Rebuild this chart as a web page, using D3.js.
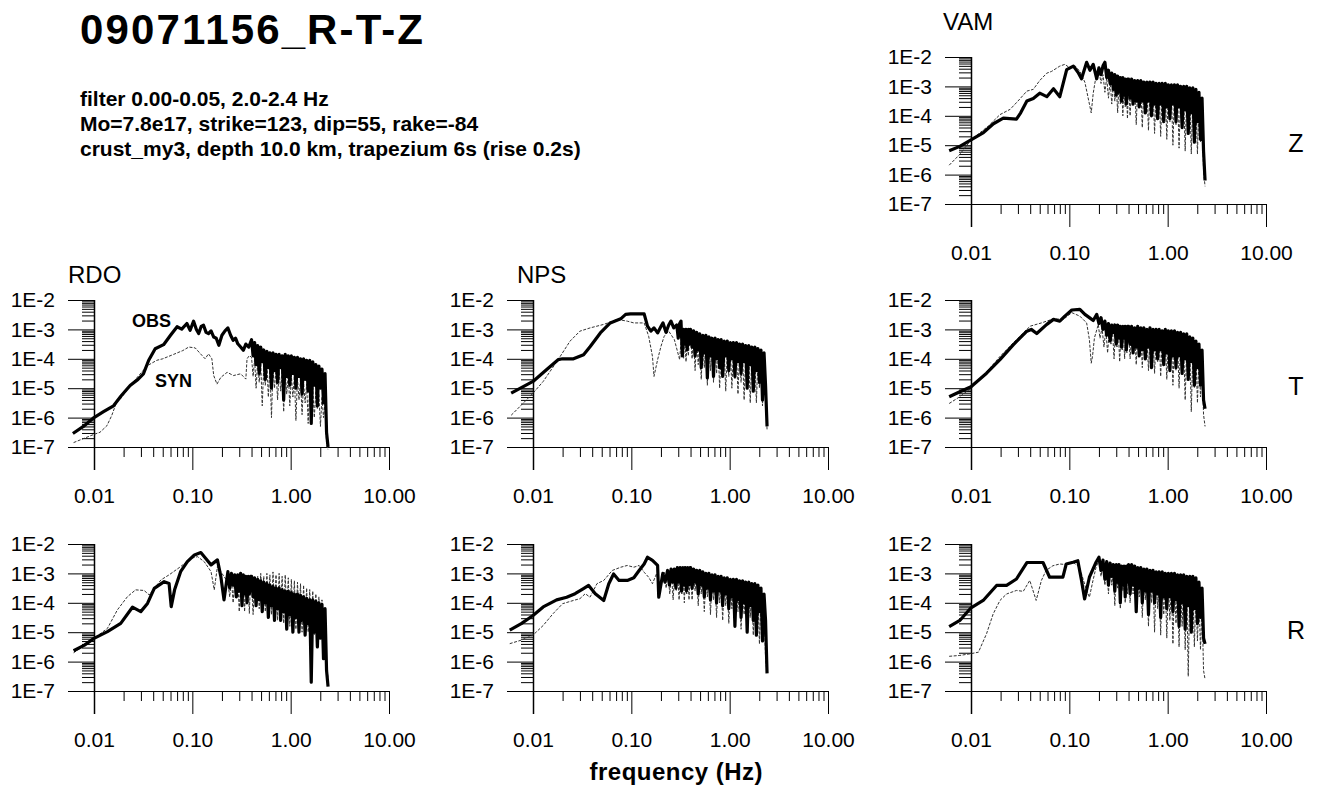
<!DOCTYPE html>
<html>
<head>
<meta charset="utf-8">
<script src="https://cdn.jsdelivr.net/npm/d3@7"></script>
<style>
body { margin: 0; background: #fff; }
text { font-family: "Liberation Sans", Arial, sans-serif; fill: #000; }
</style>
</head>
<body>
<div id="chart"></div>
<script>
// Tick values and labels
const freqTicks = [0.01, 0.1, 1, 10];
const freqTickLabels = ["0.01", "0.10", "1.00", "10.00"];
const ampTicks = [1e-2, 1e-3, 1e-4, 1e-5, 1e-6, 1e-7];
const ampTickLabels = ["1E-2", "1E-3", "1E-4", "1E-5", "1E-6", "1E-7"];

const chartTitle = "09071156_R-T-Z";
const infoLines = [
    "filter 0.00-0.05, 2.0-2.4 Hz",
    "Mo=7.8e17, strike=123, dip=55, rake=-84",
    "crust_my3, depth 10.0 km, trapezium 6s (rise 0.2s)"];

// Frequencies (Hz) of the noisy high part, shared by all spectra
const hfFreq = [0.400,0.415,0.430,0.445,0.462,0.479,0.496,0.514,0.533,0.552,
    0.573,0.593,0.615,0.638,0.661,0.685,0.710,0.736,0.763,0.791,
    0.819,0.849,0.880,0.912,0.946,0.980,1.016,1.053,1.091,1.131,
    1.173,1.215,1.260,1.306,1.353,1.403,1.454,1.507,1.562,1.619,
    1.678,1.739,1.803,1.869,1.937,2.008,2.081,2.157,2.236,2.317,2.400];

// Spectra: low part as [freq Hz, log10 amplitude], high part as log10 amplitude on hfFreq

// VAM Z
const vamZObsLow = [[0.0060,-5.19],[0.0077,-5.04],[0.0100,-4.82],[0.0134,-4.57],[0.0169,-4.27],[0.0213,-4.08],[0.0290,-4.11],[0.0320,-3.9],
    [0.0370,-3.5],[0.0430,-3.41],[0.0500,-3.23],[0.0590,-3.35],[0.0690,-3.08],[0.0800,-3.35],[0.0940,-2.43],[0.1100,-2.31],[0.1240,-2.55],
    [0.1330,-2.74],[0.1500,-2.18],[0.1620,-2.45],[0.1750,-2.25],[0.1900,-2.74],[0.2000,-2.37],[0.2100,-2.6],[0.2200,-2.3],[0.2300,-2.18],
    [0.2400,-2.7],[0.2500,-2.45],[0.2600,-2.9],[0.2700,-2.55],[0.2800,-3.1],[0.2900,-2.6],[0.3000,-3.3],[0.3100,-2.65],[0.3200,-3.2],
    [0.3300,-2.7],[0.3400,-3.5],[0.3500,-2.7],[0.3600,-3.3],[0.3700,-2.75],[0.3800,-3.6],[0.3900,-2.75]];
const vamZObsHigh = [-2.75,-3.4,-2.75,-3.6,-2.8,-3.5,-2.8,-3.7,-2.8,-3.5,
    -2.85,-3.9,-2.85,-3.5,-2.85,-4.0,-2.85,-3.6,-2.9,-4.1,
    -2.9,-3.6,-2.9,-4.2,-2.9,-3.7,-2.95,-4.1,-2.95,-3.6,
    -2.95,-4.2,-2.95,-3.7,-3.0,-4.4,-3.0,-3.8,-3.0,-4.6,
    -3.05,-3.9,-3.05,-4.9,-3.1,-4.2,-3.2,-4.8,-3.4,-5.2,-6.2];
const vamZSynLow = [[0.0060,-5.68],[0.0077,-5.31],[0.0100,-4.82],[0.0150,-4.35],[0.0197,-3.96],[0.0250,-3.78],[0.0300,-3.5],[0.0370,-3.16],
    [0.0430,-3.1],[0.0500,-2.8],[0.0590,-2.55],[0.0660,-2.49],[0.0800,-2.31],[0.0900,-2.25],[0.1010,-2.37],[0.1150,-2.31],[0.1280,-2.49],
    [0.1440,-2.86],[0.1600,-3.6],[0.1670,-3.9],[0.1750,-3.23],[0.1850,-2.74],[0.2000,-2.43],[0.2100,-2.9],[0.2200,-2.6],[0.2300,-3.2],
    [0.2400,-2.7],[0.2500,-3.4],[0.2600,-2.8],[0.2700,-3.6],[0.2800,-2.85],[0.2900,-3.5],[0.3000,-2.9],[0.3100,-3.9],[0.3200,-2.9],
    [0.3300,-3.6],[0.3400,-2.95],[0.3500,-4.0],[0.3600,-2.95],[0.3700,-3.7],[0.3800,-3.0],[0.3900,-4.1]];
const vamZSynHigh = [-2.9,-4.0,-2.95,-3.6,-2.95,-4.3,-3.0,-3.7,-3.0,-4.4,
    -3.0,-3.8,-3.05,-4.5,-3.05,-3.9,-3.05,-4.6,-3.1,-4.0,
    -3.1,-4.7,-3.1,-4.1,-3.15,-4.8,-3.15,-4.2,-3.2,-5.0,
    -3.2,-4.3,-3.25,-5.1,-3.25,-4.4,-3.3,-5.2,-3.3,-4.5,
    -3.35,-5.3,-3.4,-4.6,-3.45,-5.3,-3.5,-4.9,-3.8,-5.9,-6.4];

// RDO T
const rdoTObsLow = [[0.0061,-6.54],[0.0078,-6.3],[0.0100,-6.0],[0.0125,-5.8],[0.0158,-5.6],[0.0190,-5.25],[0.0233,-4.91],[0.0280,-4.7],
    [0.0318,-4.51],[0.0360,-4.05],[0.0419,-3.66],[0.0510,-3.52],[0.0600,-3.2],[0.0700,-2.91],[0.0780,-2.99],[0.0880,-2.8],[0.0950,-3.03],
    [0.1030,-2.72],[0.1100,-3.0],[0.1160,-3.14],[0.1230,-2.9],[0.1300,-2.86],[0.1380,-3.1],[0.1460,-3.14],[0.1550,-3.05],[0.1650,-3.26],
    [0.1750,-3.3],[0.1860,-3.54],[0.2000,-3.2],[0.2150,-3.05],[0.2300,-2.95],[0.2450,-3.2],[0.2600,-3.37],[0.2750,-3.3],[0.2900,-3.49],
    [0.3100,-3.6],[0.3300,-3.71],[0.3500,-3.5],[0.3750,-3.6]];
const rdoTObsHigh = [-3.35,-3.9,-3.45,-4.2,-3.55,-4.5,-3.6,-4.1,-3.7,-4.7,
    -3.75,-4.3,-3.8,-5.0,-3.8,-4.4,-3.85,-4.8,-3.85,-4.3,
    -3.9,-5.4,-3.85,-4.6,-3.9,-4.9,-3.9,-4.5,-3.95,-5.0,
    -3.95,-4.6,-4.0,-5.2,-4.0,-4.7,-4.05,-5.1,-4.05,-6.2,
    -4.1,-4.9,-4.2,-5.6,-4.25,-5.0,-4.35,-5.5,-4.5,-6.5,-7.0];
const rdoTSynLow = [[0.0062,-6.85],[0.0080,-6.7],[0.0100,-6.57],[0.0115,-6.5],[0.0135,-6.28],[0.0151,-5.94],[0.0170,-5.47],[0.0185,-5.37],
    [0.0230,-4.95],[0.0280,-4.6],[0.0350,-4.23],[0.0436,-4.05],[0.0500,-4.0],[0.0645,-3.85],[0.0800,-3.72],[0.0920,-3.6],[0.1070,-3.63],
    [0.1210,-3.83],[0.1350,-4.0],[0.1460,-3.83],[0.1580,-4.0],[0.1650,-4.57],[0.1780,-4.86],[0.1950,-4.63],[0.2260,-4.46],[0.2620,-4.57],
    [0.3100,-4.51],[0.3500,-4.69],[0.3600,-4.0],[0.3800,-3.89]];
const rdoTSynHigh = [-3.95,-4.6,-4.0,-5.0,-4.1,-4.8,-4.15,-5.6,-4.2,-4.9,
    -4.2,-5.3,-4.25,-6.0,-4.3,-5.0,-4.35,-5.4,-4.4,-5.1,
    -4.4,-5.8,-4.45,-5.2,-4.5,-5.6,-4.55,-5.3,-4.6,-6.1,
    -4.65,-5.4,-4.7,-5.9,-4.8,-5.5,-4.85,-6.2,-4.9,-5.6,
    -5.0,-6.0,-5.1,-5.7,-5.2,-6.3,-5.3,-6.0,-5.5,-6.9,-7.1];

// NPS T
const npsTObsLow = [[0.0060,-5.17],[0.0100,-4.77],[0.0137,-4.37],[0.0180,-4.03],[0.0200,-4.0],[0.0258,-4.0],[0.0327,-3.86],[0.0382,-3.58],
    [0.0484,-3.12],[0.0610,-2.78],[0.0780,-2.64],[0.0875,-2.49],[0.0980,-2.47],[0.1350,-2.47],[0.1460,-2.89],[0.1580,-3.06],[0.1700,-2.95],
    [0.1850,-3.12],[0.2000,-2.9],[0.2100,-2.78],[0.2250,-3.1],[0.2400,-2.85],[0.2530,-2.72],[0.2700,-2.95],[0.2900,-2.85],[0.3000,-3.3],
    [0.3100,-2.8],[0.3200,-2.72],[0.3300,-3.9],[0.3400,-3.0],[0.3500,-3.5],[0.3600,-3.0],[0.3700,-3.7],[0.3800,-3.0],[0.3900,-3.5]];
const npsTObsHigh = [-3.0,-3.6,-3.05,-3.9,-3.1,-3.7,-3.15,-4.3,-3.2,-3.8,
    -3.2,-4.65,-3.25,-3.9,-3.3,-4.6,-3.3,-4.0,-3.35,-4.3,
    -3.35,-4.6,-3.4,-3.9,-3.4,-4.4,-3.45,-4.0,-3.45,-4.6,
    -3.45,-4.1,-3.5,-4.5,-3.5,-4.1,-3.55,-5.0,-3.55,-4.2,
    -3.6,-5.1,-3.6,-4.4,-3.65,-4.8,-3.7,-5.4,-3.8,-4.9,-6.3];
const npsTSynLow = [[0.0060,-5.92],[0.0079,-5.52],[0.0100,-5.17],[0.0127,-4.77],[0.0180,-4.03],[0.0238,-3.4],[0.0300,-3.06],[0.0380,-2.95],
    [0.0524,-2.83],[0.0720,-2.66],[0.0910,-2.72],[0.1060,-2.78],[0.1350,-2.78],[0.1500,-3.23],[0.1640,-3.92],[0.1700,-4.6],[0.1850,-4.03],
    [0.2000,-3.58],[0.2160,-3.23],[0.2400,-3.06],[0.2740,-3.35],[0.3100,-4.03],[0.3200,-3.4],[0.3300,-3.46],[0.3400,-4.0],[0.3500,-3.3],
    [0.3600,-4.1],[0.3700,-3.3],[0.3800,-3.9],[0.3900,-3.3]];
const npsTSynHigh = [-3.2,-4.0,-3.25,-4.4,-3.3,-4.2,-3.35,-4.7,-3.4,-4.3,
    -3.45,-4.9,-3.5,-4.4,-3.5,-4.8,-3.55,-4.5,-3.6,-5.0,
    -3.6,-4.5,-3.65,-5.1,-3.7,-4.6,-3.7,-5.0,-3.75,-4.7,
    -3.8,-5.2,-3.8,-4.8,-3.85,-5.4,-3.9,-4.8,-3.9,-5.5,
    -3.95,-4.9,-4.0,-5.5,-4.05,-5.0,-4.1,-5.6,-4.3,-5.2,-6.4];

// VAM T
const vamTObsLow = [[0.0060,-5.29],[0.0077,-5.12],[0.0100,-4.95],[0.0144,-4.49],[0.0197,-4.03],[0.0270,-3.52],[0.0370,-3.06],[0.0410,-3.0],
    [0.0466,-3.14],[0.0590,-2.83],[0.0690,-2.66],[0.0800,-2.72],[0.0900,-2.55],[0.1060,-2.34],[0.1280,-2.32],[0.1440,-2.49],[0.1600,-2.6],
    [0.1750,-2.7],[0.1900,-2.49],[0.2000,-2.8],[0.2100,-2.6],[0.2200,-3.0],[0.2300,-2.72],[0.2400,-3.2],[0.2500,-2.8],[0.2600,-3.4],
    [0.2700,-2.85],[0.2800,-3.1],[0.2900,-2.85],[0.3000,-3.5],[0.3100,-2.85],[0.3200,-3.3],[0.3300,-2.9],[0.3400,-3.6],[0.3500,-2.9],
    [0.3600,-3.3],[0.3700,-2.9],[0.3800,-3.7],[0.3900,-2.9]];
const vamTObsHigh = [-2.9,-3.5,-2.9,-3.8,-2.95,-3.6,-2.9,-3.9,-2.95,-3.7,
    -2.95,-4.0,-3.0,-3.6,-2.95,-4.3,-3.0,-3.7,-3.0,-4.0,
    -3.0,-3.7,-3.05,-4.2,-3.0,-3.8,-3.05,-4.4,-3.05,-3.9,
    -3.05,-4.3,-3.1,-3.9,-3.1,-4.5,-3.15,-4.0,-3.15,-4.7,
    -3.25,-4.1,-3.3,-4.9,-3.4,-4.3,-3.5,-4.9,-3.7,-5.4,-5.7];
const vamTSynLow = [[0.0060,-5.52],[0.0077,-5.29],[0.0100,-5.0],[0.0144,-4.45],[0.0197,-3.92],[0.0290,-3.35],[0.0400,-2.89],[0.0520,-2.78],
    [0.0690,-2.64],[0.0870,-2.66],[0.1060,-2.43],[0.1280,-2.55],[0.1500,-2.78],[0.1600,-3.35],[0.1670,-4.15],[0.1720,-3.92],[0.1800,-3.29],
    [0.1970,-2.83],[0.2050,-3.3],[0.2150,-2.95],[0.2250,-3.6],[0.2350,-3.0],[0.2450,-3.8],[0.2550,-3.0],[0.2650,-3.5],[0.2750,-3.05],
    [0.2850,-4.0],[0.2950,-3.05],[0.3050,-3.6],[0.3150,-3.05],[0.3250,-4.1],[0.3350,-3.1],[0.3450,-3.7],[0.3550,-3.1],[0.3650,-4.0],
    [0.3750,-3.1],[0.3850,-3.8],[0.3950,-3.1]];
const vamTSynHigh = [-3.1,-4.0,-3.1,-3.8,-3.15,-4.2,-3.15,-3.9,-3.2,-4.3,
    -3.2,-3.9,-3.2,-4.4,-3.25,-4.0,-3.25,-4.5,-3.3,-4.1,
    -3.3,-4.6,-3.3,-4.2,-3.35,-4.7,-3.35,-4.3,-3.4,-4.9,
    -3.4,-4.4,-3.45,-5.0,-3.5,-4.5,-3.55,-5.4,-3.6,-4.7,
    -3.65,-5.8,-3.7,-5.0,-3.8,-5.5,-3.9,-5.3,-4.2,-5.9,-6.3];

// RDO R
const rdoRObsLow = [[0.0062,-5.63],[0.0080,-5.44],[0.0100,-5.21],[0.0137,-4.98],[0.0187,-4.7],[0.0246,-4.15],[0.0299,-4.3],[0.0350,-4.02],
    [0.0410,-3.51],[0.0517,-3.28],[0.0580,-3.34],[0.0610,-4.13],[0.0660,-3.56],[0.0760,-2.94],[0.0890,-2.6],[0.1050,-2.37],[0.1220,-2.29],
    [0.1370,-2.49],[0.1550,-2.71],[0.1800,-2.54],[0.1950,-3.11],[0.2100,-3.9],[0.2300,-2.94],[0.2400,-3.5],[0.2500,-3.0],[0.2600,-3.4],
    [0.2700,-3.05],[0.2800,-3.8],[0.2900,-3.05],[0.3000,-3.6],[0.3100,-3.0],[0.3200,-4.1],[0.3300,-3.05],[0.3400,-3.7],[0.3500,-3.1],
    [0.3600,-4.0],[0.3700,-3.1],[0.3800,-3.7],[0.3900,-3.1]];
const rdoRObsHigh = [-3.1,-3.8,-3.15,-4.1,-3.2,-3.9,-3.25,-4.3,-3.3,-4.0,
    -3.35,-4.5,-3.4,-4.1,-3.45,-4.6,-3.5,-4.2,-3.5,-4.6,
    -3.55,-4.3,-3.6,-4.9,-3.6,-4.4,-3.65,-5.0,-3.7,-4.5,
    -3.7,-5.0,-3.75,-4.6,-3.8,-5.1,-3.85,-4.7,-3.9,-6.7,
    -3.9,-5.0,-3.95,-5.5,-4.0,-5.2,-4.05,-5.9,-4.2,-6.3,-6.85];
const rdoRSynLow = [[0.0062,-5.7],[0.0080,-5.45],[0.0100,-5.21],[0.0137,-4.87],[0.0173,-4.24],[0.0219,-3.79],[0.0265,-3.56],[0.0323,-3.58],
    [0.0364,-3.73],[0.0480,-3.22],[0.0580,-3.05],[0.0760,-2.77],[0.0965,-2.49],[0.1130,-2.43],[0.1320,-2.6],[0.1550,-2.94],[0.1670,-3.56],
    [0.1800,-2.77],[0.2000,-3.0],[0.2300,-3.3],[0.2400,-3.8],[0.2500,-3.2],[0.2600,-4.0],[0.2700,-3.2],[0.2800,-3.7],[0.2900,-3.2],
    [0.3000,-4.3],[0.3100,-3.25],[0.3200,-3.8],[0.3300,-3.25],[0.3400,-4.3],[0.3500,-3.3],[0.3600,-3.9],[0.3700,-3.3],[0.3800,-4.36],
    [0.3900,-3.3]];
const rdoRSynHigh = [-3.3,-4.4,-3.2,-3.9,-3.1,-4.2,-3.0,-3.8,-3.1,-4.3,
    -3.0,-4.0,-3.05,-4.4,-2.95,-4.1,-3.05,-4.6,-3.0,-4.2,
    -3.1,-4.7,-3.05,-4.3,-3.15,-4.8,-3.2,-4.4,-3.25,-4.9,
    -3.3,-4.5,-3.35,-5.0,-3.4,-4.6,-3.5,-5.0,-3.55,-4.7,
    -3.6,-5.1,-3.7,-4.8,-3.8,-5.2,-3.9,-5.0,-4.3,-6.0,-6.6];

// NPS R
const npsRObsLow = [[0.0058,-4.93],[0.0076,-4.71],[0.0100,-4.43],[0.0127,-4.14],[0.0174,-3.9],[0.0220,-3.81],[0.0268,-3.69],[0.0326,-3.52],
    [0.0368,-3.41],[0.0430,-3.69],[0.0524,-3.92],[0.0590,-3.35],[0.0660,-3.02],[0.0750,-3.24],[0.0910,-3.24],[0.1060,-3.15],[0.1200,-2.9],
    [0.1350,-2.68],[0.1460,-2.45],[0.1640,-2.56],[0.1850,-2.73],[0.1900,-3.81],[0.2090,-3.0],[0.2200,-3.3],[0.2340,-2.9],[0.2440,-3.4],
    [0.2540,-2.85],[0.2640,-3.3],[0.2740,-2.85],[0.2840,-3.5],[0.2940,-2.8],[0.3040,-3.3],[0.3140,-2.8],[0.3240,-3.6],[0.3340,-2.8],
    [0.3440,-3.4],[0.3540,-2.8],[0.3640,-3.6],[0.3740,-2.8],[0.3840,-3.4],[0.3940,-2.8]];
const npsRObsHigh = [-2.8,-3.5,-2.85,-3.3,-2.9,-3.7,-2.9,-3.4,-2.95,-3.8,
    -3.0,-3.5,-3.0,-3.9,-3.05,-3.6,-3.05,-4.0,-3.1,-3.6,
    -3.1,-4.1,-3.15,-3.7,-3.15,-4.2,-3.2,-3.8,-3.2,-4.8,
    -3.2,-3.9,-3.25,-4.5,-3.25,-4.0,-3.3,-5.0,-3.3,-4.1,
    -3.35,-4.6,-3.35,-5.1,-3.4,-4.3,-3.5,-5.3,-3.7,-4.6,-6.4];
const npsRSynLow = [[0.0058,-5.39],[0.0076,-5.27],[0.0100,-5.1],[0.0127,-4.77],[0.0160,-4.37],[0.0200,-4.03],[0.0258,-3.92],[0.0300,-3.86],
    [0.0340,-3.69],[0.0380,-3.81],[0.0447,-3.35],[0.0524,-3.24],[0.0640,-2.9],[0.0780,-2.79],[0.0910,-2.73],[0.1060,-2.79],[0.1200,-2.73],
    [0.1350,-2.96],[0.1500,-3.13],[0.1640,-3.35],[0.1800,-3.02],[0.1950,-3.47],[0.2160,-2.96],[0.2260,-3.5],[0.2360,-3.0],[0.2460,-3.7],
    [0.2560,-3.0],[0.2660,-3.9],[0.2760,-3.0],[0.2860,-3.6],[0.2960,-3.0],[0.3060,-3.9],[0.3160,-3.0],[0.3260,-3.7],[0.3360,-3.0],
    [0.3460,-4.0],[0.3560,-3.0],[0.3660,-3.7],[0.3760,-3.0],[0.3860,-3.9],[0.3960,-3.0]];
const npsRSynHigh = [-3.0,-3.9,-3.0,-3.6,-3.05,-4.1,-3.1,-3.7,-3.1,-4.3,
    -3.15,-3.8,-3.15,-4.4,-3.2,-3.9,-3.2,-4.5,-3.25,-4.0,
    -3.25,-4.6,-3.3,-4.1,-3.3,-4.7,-3.35,-4.2,-3.35,-4.8,
    -3.4,-4.3,-3.4,-4.9,-3.45,-4.4,-3.45,-5.0,-3.5,-4.5,
    -3.55,-5.1,-3.6,-4.6,-3.65,-5.4,-3.7,-5.0,-4.0,-5.9,-6.4];

// VAM R
const vamRObsLow = [[0.0060,-4.81],[0.0077,-4.6],[0.0100,-4.17],[0.0133,-3.92],[0.0182,-3.41],[0.0230,-3.41],[0.0290,-3.19],[0.0370,-2.63],
    [0.0430,-2.63],[0.0540,-2.63],[0.0630,-3.13],[0.0710,-3.13],[0.0860,-3.13],[0.0930,-2.68],[0.1090,-2.62],[0.1220,-2.57],[0.1330,-3.24],
    [0.1430,-3.87],[0.1600,-3.13],[0.1870,-2.62],[0.2000,-2.45],[0.2100,-2.9],[0.2200,-2.55],[0.2300,-3.2],[0.2400,-2.6],[0.2500,-3.4],
    [0.2600,-2.65],[0.2700,-3.1],[0.2800,-2.7],[0.2900,-3.6],[0.3000,-2.7],[0.3100,-3.3],[0.3200,-2.7],[0.3300,-4.0],[0.3400,-2.75],
    [0.3500,-3.4],[0.3600,-2.75],[0.3700,-3.8],[0.3800,-2.75],[0.3900,-3.3]];
const vamRObsHigh = [-2.7,-3.7,-2.7,-3.4,-2.75,-4.3,-2.8,-3.5,-2.8,-4.0,
    -2.85,-3.6,-2.85,-4.4,-2.9,-3.6,-2.9,-4.0,-2.95,-3.7,
    -2.95,-4.5,-2.95,-3.8,-3.0,-4.2,-3.0,-3.8,-3.0,-4.3,
    -3.0,-3.9,-3.05,-4.8,-3.05,-4.0,-3.05,-4.9,-3.1,-4.1,
    -3.1,-5.0,-3.1,-4.2,-3.15,-4.7,-3.3,-4.5,-3.5,-5.2,-5.4];
const vamRSynLow = [[0.0060,-5.82],[0.0077,-5.79],[0.0100,-5.73],[0.0119,-5.68],[0.0144,-5.05],[0.0168,-4.38],[0.0197,-3.92],[0.0230,-3.7],
    [0.0290,-3.58],[0.0340,-3.61],[0.0396,-3.24],[0.0460,-3.92],[0.0520,-3.24],[0.0580,-2.9],[0.0680,-2.74],[0.0800,-2.68],[0.0930,-2.7],
    [0.1090,-2.62],[0.1270,-2.79],[0.1480,-3.53],[0.1600,-3.81],[0.1740,-3.24],[0.1870,-2.79],[0.2000,-2.57],[0.2100,-3.1],[0.2200,-2.7],
    [0.2300,-3.4],[0.2400,-2.75],[0.2500,-3.7],[0.2600,-2.8],[0.2700,-3.4],[0.2800,-2.85],[0.2900,-4.1],[0.3000,-2.85],[0.3100,-3.5],
    [0.3200,-2.9],[0.3300,-4.2],[0.3400,-2.9],[0.3500,-3.6],[0.3600,-2.9],[0.3700,-4.0],[0.3800,-2.9],[0.3900,-3.7]];
const vamRSynHigh = [-2.9,-4.0,-2.95,-3.7,-3.0,-4.3,-3.0,-3.8,-3.05,-4.5,
    -3.05,-3.9,-3.1,-4.8,-3.1,-4.0,-3.15,-5.0,-3.15,-4.2,
    -3.2,-5.1,-3.2,-4.4,-3.25,-5.2,-3.25,-4.6,-3.3,-5.4,
    -3.3,-4.7,-3.35,-5.5,-3.4,-4.8,-3.4,-5.6,-3.45,-6.5,
    -3.5,-5.0,-3.55,-5.5,-3.6,-5.3,-3.8,-5.6,-4.1,-6.3,-6.6];

// Layout
const width = 1317, height = 786;
const colX = [94, 533, 971];      // x of 0.01 Hz in each column
const axisY = [204, 447, 691];    // y of 1E-7 in each row
const plotW = 295, plotH = 147;
const compLabels = ["Z", "T", "R"];

const panels = [
    {station: "VAM", titleDx: -28, titleDy: -27, col: 2, row: 0, obs: [vamZObsLow, vamZObsHigh], syn: [vamZSynLow, vamZSynHigh]},
    {station: "RDO", titleDx: -26, titleDy: -17, col: 0, row: 1, obs: [rdoTObsLow, rdoTObsHigh], syn: [rdoTSynLow, rdoTSynHigh], legend: true},
    {station: "NPS", titleDx: -16, titleDy: -17, col: 1, row: 1, obs: [npsTObsLow, npsTObsHigh], syn: [npsTSynLow, npsTSynHigh]},
    {station: null, col: 2, row: 1, obs: [vamTObsLow, vamTObsHigh], syn: [vamTSynLow, vamTSynHigh]},
    {station: null, col: 0, row: 2, obs: [rdoRObsLow, rdoRObsHigh], syn: [rdoRSynLow, rdoRSynHigh]},
    {station: null, col: 1, row: 2, obs: [npsRObsLow, npsRObsHigh], syn: [npsRSynLow, npsRSynHigh]},
    {station: null, col: 2, row: 2, obs: [vamRObsLow, vamRObsHigh], syn: [vamRSynLow, vamRSynHigh]}
];

const svg = d3.select("#chart")
    .append("svg")
    .attr("width", width)
    .attr("height", height);

// Title Join spectrum parts
// Return array of [freq, log10 amp]
function joinSpectrum(parts) {
    return parts[0].concat(hfFreq.map(function(f, i) { return [f, parts[1][i]]; }));
}

function isMinor(d) {
    const l = Math.log10(d);
    return Math.abs(l - Math.round(l)) > 1e-6;
}

// Title Draw Panel
// Description axes, ticks and the two spectra of one station/component
function drawPanel(p) {
    const x0 = colX[p.col];
    const y0 = axisY[p.row];

    const xScale = d3.scaleLog().domain([0.01, 10]).range([x0, x0 + plotW]);
    const yScale = d3.scaleLog().domain([1e-7, 1e-2]).range([y0, y0 - plotH]);

    const g = svg.append("g");

    // minor ticks
    g.append("g")
        .attr("transform", `translate(0,${y0})`)
        .call(d3.axisBottom(xScale).tickValues(xScale.ticks().filter(isMinor)).tickSize(10).tickFormat(""));
    g.append("g")
        .attr("transform", `translate(${x0},0)`)
        .call(d3.axisLeft(yScale).tickValues(yScale.ticks().filter(isMinor)).tickSize(12).tickFormat(""));

    // major ticks with labels
    g.append("g")
        .attr("class", "major")
        .attr("transform", `translate(0,${y0})`)
        .call(d3.axisBottom(xScale).tickValues(freqTicks).tickSize(23).tickPadding(18)
            .tickFormat(function(d, i) { return freqTickLabels[i]; }));
    g.append("g")
        .attr("class", "major")
        .attr("transform", `translate(${x0},0)`)
        .call(d3.axisLeft(yScale).tickValues(ampTicks).tickSize(26).tickPadding(13)
            .tickFormat(function(d, i) { return ampTickLabels[i]; }));

    g.selectAll(".domain").remove();
    g.selectAll(".tick line").attr("stroke", "#000").attr("stroke-width", 1);
    g.selectAll(".major text")
        .attr("font-family", "Liberation Sans, Arial, sans-serif")
        .attr("font-size", 21)
        .attr("fill", "#000");

    // axis lines
    g.append("line")
        .attr("x1", x0 - 26).attr("x2", x0 + plotW)
        .attr("y1", y0 + 0.5).attr("y2", y0 + 0.5)
        .attr("stroke", "#000");
    g.append("line")
        .attr("x1", x0 + 0.5).attr("x2", x0 + 0.5)
        .attr("y1", y0 - plotH).attr("y2", y0 + 23)
        .attr("stroke", "#000")
        .attr("stroke-width", 1.5);

    const line = d3.line()
        .x(function(d) { return xScale(d[0]); })
        .y(function(d) { return yScale(Math.pow(10, d[1])); });

    g.append("path")
        .datum(joinSpectrum(p.syn))
        .attr("d", line)
        .attr("fill", "none")
        .attr("stroke", "#333")
        .attr("stroke-width", 1)
        .attr("stroke-dasharray", "3,1.5");

    g.append("path")
        .datum(joinSpectrum(p.obs))
        .attr("d", line)
        .attr("fill", "none")
        .attr("stroke", "#000")
        .attr("stroke-width", 3.2)
        .attr("stroke-linejoin", "round");

    if (p.station) {
        g.append("text")
            .attr("x", x0 + p.titleDx)
            .attr("y", y0 - plotH + p.titleDy)
            .attr("font-size", 24)
            .text(p.station);
    }

    if (p.legend) {
        g.append("text")
            .attr("x", xScale(0.0244))
            .attr("y", yScale(Math.pow(10, -2.92)))
            .attr("font-size", 18)
            .attr("font-weight", "bold")
            .text("OBS");
        g.append("text")
            .attr("x", xScale(0.0417))
            .attr("y", yScale(Math.pow(10, -4.96)))
            .attr("font-size", 18)
            .attr("font-weight", "bold")
            .text("SYN");
    }

    if (p.col === 2) {
        g.append("text")
            .attr("x", 1296)
            .attr("y", y0 - 52)
            .attr("text-anchor", "middle")
            .attr("font-size", 25)
            .text(compLabels[p.row]);
    }
}

panels.forEach(drawPanel);

// Headline and run info
svg.append("text")
    .attr("x", 80)
    .attr("y", 44)
    .attr("font-size", 42)
    .attr("font-weight", "bold")
    .attr("textLength", 343)
    .attr("lengthAdjust", "spacing")
    .text(chartTitle);

svg.selectAll("text.info")
    .data(infoLines)
    .enter()
    .append("text")
    .attr("class", "info")
    .attr("x", 80)
    .attr("y", function(d, i) { return 106 + 25 * i; })
    .attr("font-size", 21)
    .attr("font-weight", "bold")
    .text(function(d) { return d; });

svg.append("text")
    .attr("x", 676)
    .attr("y", 780)
    .attr("text-anchor", "middle")
    .attr("font-size", 24)
    .attr("font-weight", "bold")
    .attr("textLength", 173)
    .attr("lengthAdjust", "spacing")
    .text("frequency (Hz)");
</script>
</body>
</html>
